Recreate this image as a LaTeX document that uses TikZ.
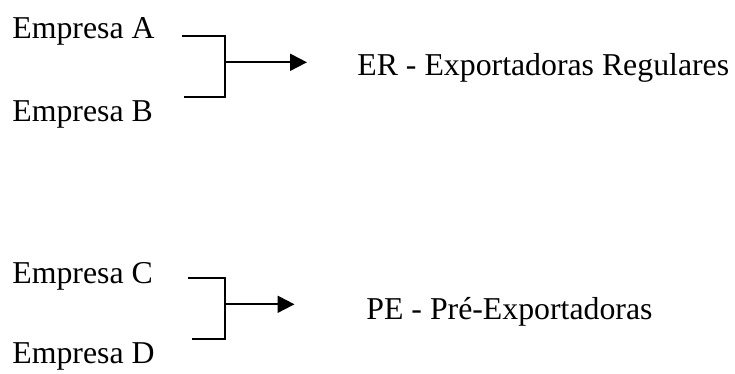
\documentclass[tikz,border=0pt]{standalone}
\usepackage{fontspec}
\setmainfont{Liberation Serif}
\usetikzlibrary{arrows.meta, positioning}
\tikzstyle{firm_node} = [anchor=base west, inner sep=0pt, font=\fontsize{15.9}{18}\selectfont]
\tikzstyle{group_node} = [anchor=base west, inner sep=0pt, font=\fontsize{15.9}{18}\selectfont]
\tikzstyle{join_line} = [line width=1pt]
\tikzstyle{join_arrow} = [line width=1pt, -{Triangle[length=8.5pt, width=8.5pt]}]

\begin{document}
\begin{tikzpicture}[x=0.5pt, y=-0.5pt]
    \useasboundingbox (0,0) rectangle (735,374);

    % first group
    \node (empA) [firm_node] at (12,38.3) {Empresa A};
    \node (empB) [firm_node] at (12,121.7) {Empresa B};
    \node (er) [group_node] at (357,75.7) {ER - Exportadoras Regulares};
    \coordinate (inA) at (182,35.7);
    \coordinate (inB) at (184,96.7);
    \coordinate (joinAB) at (225,62.3);
    \coordinate (tipAB) at (307,62.3);
    \draw [join_line] (inA) -- (inA -| joinAB) -- (inB -| joinAB) -- (inB);
    \draw [join_arrow] (joinAB) -- (tipAB);

    % second group
    \node (empC) [firm_node] at (12,283.3) {Empresa C};
    \node (empD) [firm_node] at (12,363.3) {Empresa D};
    \node (pe) [group_node] at (366,319.3) {PE - Pré-Exportadoras};
    \coordinate (inC) at (188,278.3);
    \coordinate (inD) at (191.5,339);
    \coordinate (joinCD) at (225,304.3);
    \coordinate (tipCD) at (294.5,304.3);
    \draw [join_line] (inC) -- (inC -| joinCD) -- (inD -| joinCD) -- (inD);
    \draw [join_arrow] (joinCD) -- (tipCD);
\end{tikzpicture}
\end{document}
